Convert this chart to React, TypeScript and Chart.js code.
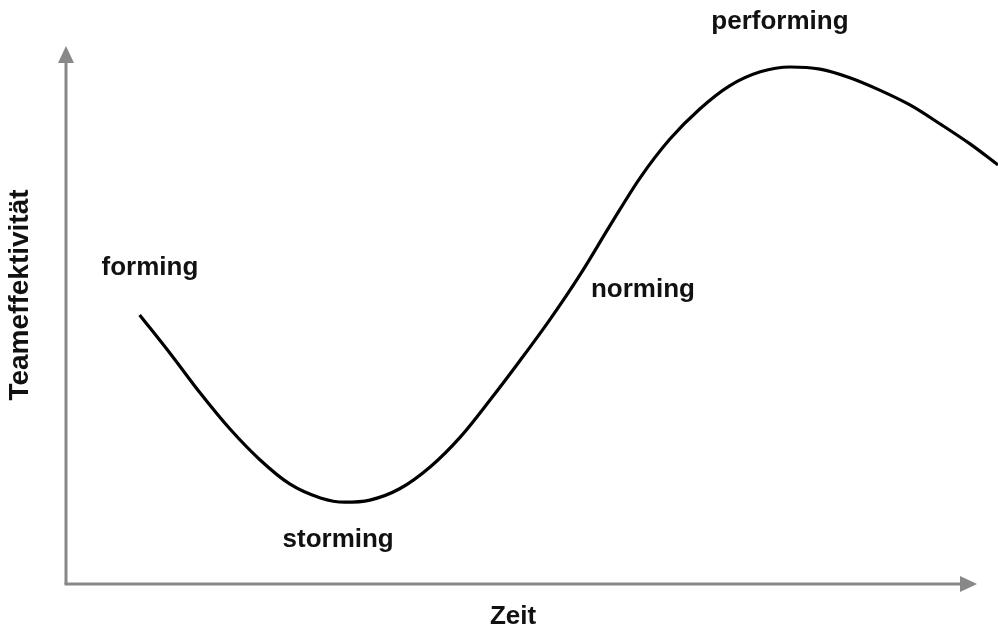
import React, { useEffect, useRef } from "react";
import { Chart, registerables } from "chart.js";

Chart.register(...registerables);

// Time (x, 0..100) and team effectiveness (y, 0..100)
const timeValues = [7.9, 11.2, 14.4, 17.6, 20.8, 24.0, 27.3, 29.9, 32.6, 35.8, 39.1, 42.3, 45.5, 48.7, 51.9, 55.2, 58.4, 61.6, 64.8, 68.0, 71.2, 74.5, 77.7, 80.9, 84.1, 87.3, 90.6, 93.8, 97.0, 100];
const effectivenessValues = [50.0, 42.8, 35.5, 28.8, 23.1, 18.6, 16.0, 15.2, 15.6, 17.7, 21.8, 27.3, 34.2, 41.5, 49.1, 57.6, 66.7, 75.5, 82.7, 88.3, 92.6, 95.2, 96.1, 95.7, 94.1, 91.8, 89.0, 85.5, 81.8, 77.9];

// Phase labels with their anchor positions in data units
const phaseNames = ["forming", "storming", "norming", "performing"];
const phaseX = [9.0, 29.2, 61.9, 76.6];
const phaseY = [58.7, 8.2, 54.6, 104.5];

const xAxisTitle = "Zeit";
const yAxisTitle = "Teameffektivität";

const AXIS_COLOR = "#888888";
const TEXT_COLOR = "#111111";
const FONT = "bold 26px 'Liberation Sans', Arial, sans-serif";
const Y_FONT = "bold 28px 'Liberation Sans', Arial, sans-serif";

const decorPlugin = {
  id: "decor",
  beforeDatasetsDraw(chart: any) {
    const { ctx, chartArea } = chart;
    const { left, top, bottom } = chartArea;
    const arrowTipX = chart.width - 21;
    ctx.save();
    ctx.strokeStyle = AXIS_COLOR;
    ctx.fillStyle = AXIS_COLOR;
    ctx.lineWidth = 3;
    ctx.beginPath();
    ctx.moveTo(left, bottom);
    ctx.lineTo(left, top + 12);
    ctx.stroke();
    ctx.beginPath();
    ctx.moveTo(left, top);
    ctx.lineTo(left - 8, top + 17);
    ctx.lineTo(left + 8, top + 17);
    ctx.closePath();
    ctx.fill();
    ctx.beginPath();
    ctx.moveTo(left - 1.5, bottom);
    ctx.lineTo(arrowTipX - 12, bottom);
    ctx.stroke();
    ctx.beginPath();
    ctx.moveTo(arrowTipX, bottom);
    ctx.lineTo(arrowTipX - 17, bottom - 8);
    ctx.lineTo(arrowTipX - 17, bottom + 8);
    ctx.closePath();
    ctx.fill();
    ctx.restore();
  },
  afterDraw(chart: any) {
    const { ctx, chartArea } = chart;
    const xs = chart.scales.x;
    const ys = chart.scales.y;
    ctx.save();
    ctx.fillStyle = TEXT_COLOR;
    ctx.font = FONT;
    ctx.textAlign = "center";
    ctx.textBaseline = "middle";
    phaseNames.forEach((name, i) => {
      ctx.fillText(name, xs.getPixelForValue(phaseX[i]), ys.getPixelForValue(phaseY[i]));
    });
    ctx.fillText(xAxisTitle, 513, chartArea.bottom + 33);
    ctx.font = Y_FONT;
    ctx.translate(20, 295);
    ctx.rotate(-Math.PI / 2);
    ctx.fillText(yAxisTitle, 0, 0);
    ctx.restore();
  },
};

export default function App() {
  const canvasRef = useRef<HTMLCanvasElement | null>(null);

  useEffect(() => {
    if (!canvasRef.current) return;
    const points = timeValues.map((x, i) => ({ x, y: effectivenessValues[i] }));
    const chart = new Chart(canvasRef.current, {
      type: "line",
      data: {
        datasets: [
          {
            data: points,
            borderColor: "#000000",
            borderWidth: 3.2,
            pointRadius: 0,
            fill: false,
            cubicInterpolationMode: "monotone",
          },
        ],
      },
      options: {
        animation: false,
        responsive: false,
        maintainAspectRatio: false,
        layout: { padding: { left: 66, top: 46, right: 0, bottom: 46 } },
        plugins: { legend: { display: false }, tooltip: { enabled: false }, title: { display: false } },
        scales: {
          x: { type: "linear", min: 0, max: 100, display: false },
          y: { type: "linear", min: 0, max: 100, display: false },
        },
      },
      plugins: [decorPlugin],
    });
    return () => chart.destroy();
  }, []);

  return (
    <div style={{ position: "absolute", left: 0, top: 0, width: 998, height: 630, background: "#fff" }}>
      <canvas ref={canvasRef} width={998} height={630} style={{ width: 998, height: 630 }} />
    </div>
  );
}
